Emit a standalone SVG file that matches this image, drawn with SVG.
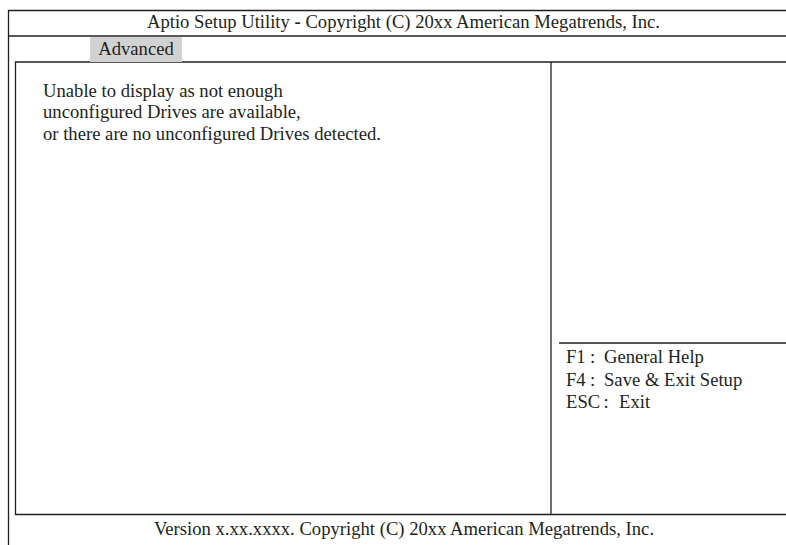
<svg xmlns="http://www.w3.org/2000/svg" width="786" height="545" viewBox="0 0 786 545">
<style>
.ln{stroke:#231f20;stroke-width:1.3;fill:none}
.t{font-family:"Liberation Serif","Times New Roman",serif;font-size:18.65px;fill:#231f20}
</style>
<rect width="786" height="545" fill="#fff"/>
<g id="frame">
<path class="ln" d="M786 10.5H8.5V545"/>
<path class="ln" d="M8.5 36H786"/>
<path class="ln" d="M786 62H15.5V514.5H786"/>
<path class="ln" d="M551 62V514.5"/>
<path class="ln" d="M559 343H786"/>
</g>
<g id="title">
<text class="t" x="403.5" y="28" text-anchor="middle">Aptio Setup Utility <tspan font-weight="bold">-</tspan> Copyright (C) 20xx American Megatrends, Inc.</text>
</g>
<g id="tab">
<rect x="90" y="37" width="92" height="25" fill="#d1d2d4"/>
<text class="t" x="136" y="55" text-anchor="middle">Advanced</text>
</g>
<g id="message">
<text class="t" x="43" y="96.5">Unable to display as not enough</text>
<text class="t" x="43" y="118">unconfigured Drives are available,</text>
<text class="t" x="43" y="140">or there are no unconfigured Drives detected.</text>
</g>
<g id="help">
<text class="t" y="363"><tspan x="566">F1</tspan><tspan x="590">:</tspan><tspan x="604">General Help</tspan></text>
<text class="t" y="385.5"><tspan x="566">F4</tspan><tspan x="590">:</tspan><tspan x="604">Save &amp; Exit Setup</tspan></text>
<text class="t" y="408"><tspan x="566">ESC</tspan><tspan x="603.5">:</tspan><tspan x="619">Exit</tspan></text>
</g>
<g id="footer">
<text class="t" x="404" y="535" text-anchor="middle">Version x.xx.xxxx. Copyright (C) 20xx American Megatrends, Inc.</text>
</g>
</svg>
